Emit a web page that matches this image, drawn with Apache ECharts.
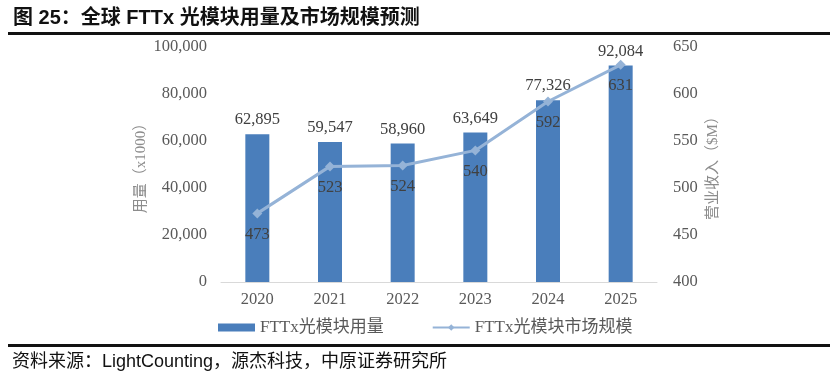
<!DOCTYPE html>
<html><head><meta charset="utf-8">
<script src="https://cdn.jsdelivr.net/npm/echarts@6/dist/echarts.min.js"></script>
<style>html,body{margin:0;padding:0;background:#fff}#c{width:839px;height:379px}</style>
</head><body><div id="c"></div>
<script>
const categories = ['2020','2021','2022','2023','2024','2025'];
const volume = [62895, 59547, 58960, 63649, 77326, 92084];
const market = [473, 523, 524, 540, 592, 631];
const leftTicks = [0, 20000, 40000, 60000, 80000, 100000];
const rightTicks = [400, 450, 500, 550, 600, 650];

const serif = 'Liberation Serif, "Times New Roman", "Noto Sans CJK SC", serif';
const chart = echarts.init(document.getElementById('c'));
chart.setOption({
  animation: false,
  backgroundColor: '#fff',
  title: {
    text: '图 25：全球 FTTx 光模块用量及市场规模预测',
    left: 8, top: 3,
    textStyle: {fontFamily: 'Liberation Sans, "Noto Sans CJK SC", sans-serif', fontSize: 20, fontWeight: 'bold', color: '#111'}
  },
  graphic: [
    {type: 'rect', shape: {x: 8, y: 32, width: 822, height: 3}, style: {fill: '#111'}},
    {type: 'rect', shape: {x: 8, y: 344, width: 822, height: 3}, style: {fill: '#111'}},
    {type: 'text', left: 12, top: 353, style: {text: '资料来源：LightCounting，源杰科技，中原证券研究所', font: '18px Liberation Sans, "Noto Sans CJK SC", sans-serif', fill: '#111'}}
  ],
  legend: {
    left: 213, top: 314, itemGap: 48,
    textStyle: {fontFamily: serif, fontSize: 17, color: '#595959'},
    data: [
      {name: 'FTTx光模块用量', icon: 'rect', itemStyle: {color: '#4a7ebb'}},
      {name: 'FTTx光模块市场规模'}
    ],
    itemWidth: 37, itemHeight: 8
  },
  grid: {left: 221, right: 182, top: 47, bottom: 97},
  xAxis: {
    type: 'category', data: categories,
    axisLine: {lineStyle: {color: '#d9d9d9'}},
    axisTick: {show: false},
    axisLabel: {fontFamily: serif, fontSize: 16.5, color: '#595959', margin: 9}
  },
  yAxis: [
    {
      type: 'value', min: leftTicks[0], max: leftTicks[leftTicks.length-1], interval: 20000,
      name: '用量（x1000）', nameLocation: 'middle', nameGap: 72, nameRotate: 90, nameMoveOverlap: false,
      nameTextStyle: {fontFamily: serif, fontSize: 15, color: '#8c8c8c'},
      splitLine: {show: false}, axisLine: {show: false}, axisTick: {show: false},
      axisLabel: {fontFamily: serif, fontSize: 16.5, color: '#595959', margin: 14,
        formatter: v => v.toLocaleString('en-US')}
    },
    {
      type: 'value', min: rightTicks[0], max: rightTicks[rightTicks.length-1], interval: 50,
      name: '营业收入（$M）', nameLocation: 'middle', nameGap: 49, nameRotate: 90, nameMoveOverlap: false,
      nameTextStyle: {fontFamily: serif, fontSize: 15, color: '#8c8c8c'},
      splitLine: {show: false}, axisLine: {show: false}, axisTick: {show: false},
      axisLabel: {fontFamily: serif, fontSize: 16.5, color: '#595959', margin: 16}
    }
  ],
  series: [
    {
      name: 'FTTx光模块用量', type: 'bar', data: volume, barWidth: 24,
      itemStyle: {color: '#4a7ebb'},
      label: {show: true, position: 'top', distance: 6, fontFamily: serif, fontSize: 16.5, color: '#404040',
        formatter: p => p.value.toLocaleString('en-US')}
    },
    {
      name: 'FTTx光模块市场规模', type: 'line', yAxisIndex: 1, data: market,
      symbol: 'diamond', symbolSize: 10,
      lineStyle: {color: '#95b3d7', width: 3},
      itemStyle: {color: '#95b3d7'},
      label: {show: true, position: 'bottom', distance: 8, fontFamily: serif, fontSize: 16.5, color: '#404040'}
    }
  ]
});
</script></body></html>
